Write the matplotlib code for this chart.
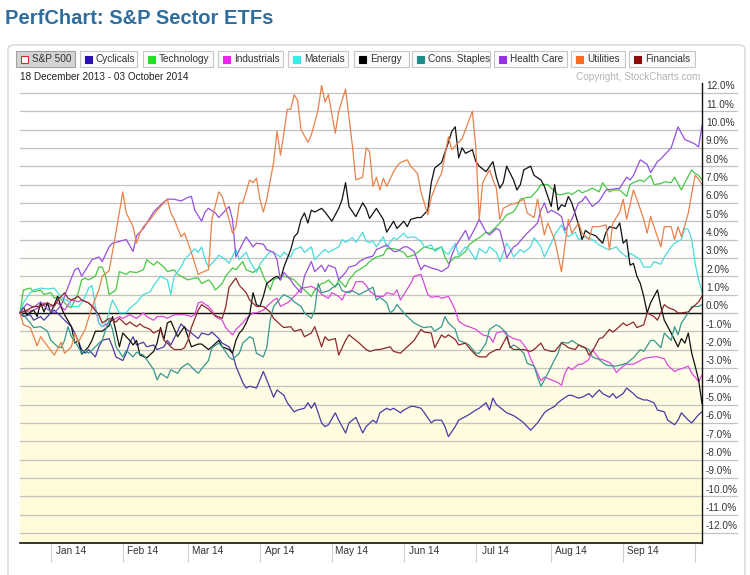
import numpy as np
import pandas as pd
import matplotlib
matplotlib.use('Agg')
import matplotlib.pyplot as plt
from matplotlib.patches import Rectangle, FancyBboxPatch
from matplotlib.colors import LinearSegmentedColormap
import matplotlib.transforms as mtransforms

plt.rcParams['font.family'] = ['Liberation Sans', 'DejaVu Sans']

# ---------------- data ----------------
holidays = ['2013-12-25', '2014-01-01', '2014-01-20', '2014-02-17',
            '2014-04-18', '2014-05-26', '2014-07-04', '2014-09-01']
dates = pd.bdate_range('2013-12-18', '2014-10-03')
dates = dates[~dates.isin(pd.to_datetime(holidays))]   # 200 trading days

month_labels = ['Jan 14', 'Feb 14', 'Mar 14', 'Apr 14', 'May 14', 'Jun 14',
                'Jul 14', 'Aug 14', 'Sep 14', '']
y_ticks = list(range(-12, 13))

# (trading-day index, % change)
cyclicals = [(0,0),(1,-0.2),(3,-0.1),(4,-0.4),(6,-0.2),(7,-0.4),(9,0.0),(10,0.15),(12,-0.2),(13,-0.4),(15,-0.75),(16,-1.1),(18,-2.0),(19,-2.2),(20,-2.0),(22,-2.4),(23,-1.85),(24,-1.5),(26,-1.4),(27,-1.85),(28,-2.4),(30,-2.6),(31,-2.2),(32,-1.65),(33,-1.3),(34,-1.75),(36,-1.6),(37,-1.85),(39,-1.75),(40,-2.0),(42,-1.85),(43,-1.5),(44,-1.75),(46,-1.0),(47,-0.6),(48,-0.8),(50,-1.1),(52,-1.4),(53,-1.1),(55,-1.2),(56,-1.05),(58,-1.4),(59,-1.65),(61,-1.85),(62,-2.2),(63,-2.9),(65,-3.8),(66,-4.1),(67,-4.0),(69,-4.1),(70,-3.65),(71,-3.2),(72,-3.65),(74,-4.6),(75,-4.2),(77,-4.5),(78,-4.9),(80,-5.4),(81,-5.3),(83,-5.2),(84,-4.9),(85,-5.2),(86,-4.9),(88,-6.0),(89,-6.2),(90,-6.1),(92,-5.45),(93,-5.85),(95,-6.55),(96,-6.0),(98,-5.7),(100,-6.55),(101,-6.2),(103,-5.85),(104,-6.0),(105,-5.45),(107,-5.2),(108,-5.3),(109,-5.2),(111,-5.45),(112,-5.3),(114,-5.1),(115,-5.1),(117,-5.2),(118,-5.45),(120,-6.0),(121,-5.85),(123,-5.85),(124,-6.2),(125,-6.75),(127,-6.2),(128,-5.85),(130,-5.65),(131,-5.55),(133,-5.3),(134,-5.2),(136,-4.9),(137,-5.3),(138,-4.65),(139,-5.0),(141,-5.3),(142,-5.45),(144,-5.6),(146,-5.85),(147,-6.0),(149,-6.4),(150,-6.2),(151,-6.0),(153,-5.45),(154,-5.3),(156,-5.1),(157,-4.9),(158,-4.75),(160,-4.5),(161,-4.5),(163,-4.65),(164,-4.6),(166,-4.4),(167,-4.6),(169,-4.2),(170,-4.4),(172,-4.6),(173,-4.4),(174,-4.65),(176,-4.4),(177,-4.1),(179,-4.4),(180,-4.6),(182,-4.75),(183,-4.75),(185,-4.9),(186,-5.3),(188,-5.4),(189,-5.85),(191,-6.1),(192,-5.85),(193,-5.45),(195,-5.85),(196,-6.0),(198,-5.55),(199,-5.4)]

technology = [(0,0),(1,1.25),(3,1.35),(4,1.15),(6,1.25),(7,1.0),(9,1.1),(10,0.8),(11,0.9),(13,0.55),(14,0.35),(15,0.3),(17,1.1),(18,1.8),(19,1.9),(20,1.8),(22,2.0),(23,2.5),(24,2.5),(25,2.0),(26,1.0),(28,1.25),(29,2.25),(31,2.1),(32,2.25),(34,2.2),(36,2.35),(37,2.9),(39,2.6),(40,2.8),(42,2.5),(43,2.25),(45,2.35),(46,2.1),(48,1.9),(49,1.8),(51,1.9),(52,1.9),(53,1.6),(55,1.8),(56,1.6),(57,1.25),(59,1.6),(60,2.0),(62,2.45),(63,2.35),(65,2.8),(66,2.35),(68,2.2),(69,2.35),(70,2.5),(71,2.0),(73,1.25),(74,1.8),(76,2.0),(77,2.0),(79,1.9),(80,1.8),(82,1.4),(83,1.25),(85,0.9),(86,1.25),(88,1.6),(89,1.65),(90,1.8),(92,1.4),(93,1.8),(95,1.4),(96,1.8),(98,2.25),(99,2.35),(101,2.6),(102,2.8),(104,3.05),(106,3.15),(107,3.5),(109,3.5),(110,3.45),(112,3.3),(113,3.05),(115,3.15),(117,3.45),(118,3.6),(120,3.5),(121,3.45),(123,3.6),(124,3.05),(125,2.7),(127,3.05),(128,3.05),(130,3.35),(131,3.7),(133,4.0),(134,4.1),(136,4.4),(137,4.35),(139,4.7),(141,5.1),(142,5.35),(144,5.5),(145,5.8),(146,6.2),(148,6.3),(149,6.3),(151,6.7),(152,7.0),(154,7.0),(155,6.8),(157,6.45),(158,6.45),(160,6.55),(161,6.45),(163,6.7),(164,6.55),(166,6.7),(167,6.8),(169,6.6),(170,7.1),(172,6.6),(173,6.7),(175,6.7),(177,6.35),(178,7.0),(179,7.1),(181,7.25),(182,7.15),(184,7.5),(185,7.0),(187,7.05),(188,7.15),(190,7.1),(191,7.4),(193,6.7),(194,7.1),(196,7.8),(197,7.6),(198,7.5),(199,7.25)]

industrials = [(0,0),(4,0.15),(5,0.25),(7,0.55),(9,0.35),(11,0.55),(13,0.15),(15,0.7),(17,0.6),(18,0.7),(20,0.55),(22,0.25),(23,-0.55),(24,-0.75),(26,-0.55),(27,-0.4),(29,-0.2),(30,-0.3),(32,-0.1),(33,-0.2),(34,-0.3),(36,0.0),(37,-0.2),(39,-0.4),(40,-0.2),(42,-0.2),(43,-0.3),(45,-0.1),(47,-0.1),(48,-0.1),(50,-0.2),(51,-0.1),(52,0.55),(53,0.6),(55,0.35),(56,0.15),(57,-0.2),(59,-0.4),(60,-0.8),(62,-1.2),(63,-0.9),(65,-0.55),(66,-0.3),(68,0.0),(69,0.0),(71,0.15),(72,0.35),(74,0.7),(75,0.8),(76,0.35),(78,0.55),(79,0.7),(81,1.1),(82,1.35),(84,1.4),(85,1.45),(87,1.25),(88,1.0),(90,0.8),(91,1.1),(93,0.9),(94,0.7),(95,1.1),(97,1.25),(98,1.7),(100,1.7),(101,1.5),(102,1.2),(104,0.9),(106,0.9),(107,1.1),(109,1.0),(110,1.25),(111,0.7),(112,1.0),(114,1.6),(115,2.0),(117,2.1),(119,1.0),(120,0.85),(122,0.9),(123,0.8),(125,0.9),(126,0.55),(127,0.15),(128,-0.45),(130,-0.7),(131,-0.75),(133,-0.9),(135,-1.2),(137,-1.3),(138,-1.6),(139,-1.1),(141,-1.0),(142,-1.2),(144,-1.4),(146,-1.5),(148,-2.0),(149,-2.5),(151,-3.3),(152,-3.7),(153,-3.5),(155,-3.65),(157,-3.8),(158,-3.95),(159,-3.3),(160,-2.95),(161,-3.1),(163,-2.8),(164,-2.8),(166,-2.55),(167,-2.0),(169,-2.5),(170,-2.55),(172,-2.7),(173,-2.9),(174,-3.25),(176,-2.9),(177,-2.8),(179,-2.8),(181,-2.6),(182,-2.5),(183,-2.45),(185,-2.4),(186,-2.4),(188,-2.5),(189,-2.85),(191,-3.2),(192,-3.1),(193,-3.05),(195,-2.9),(196,-3.3),(197,-3.5),(198,-3.75),(199,-3.4)]

materials = [(0,0),(1,0.55),(3,1.1),(4,1.25),(6,1.35),(8,1.3),(10,1.35),(11,1.1),(13,0.7),(14,0.7),(15,0.35),(17,0.35),(18,0.55),(19,0.9),(20,1.35),(21,1.5),(22,0.35),(23,-0.55),(24,-0.75),(25,-0.55),(27,0.7),(28,0.35),(29,0.0),(31,0.0),(32,0.25),(34,0.55),(35,0.8),(36,1.0),(38,1.15),(39,1.5),(41,2.0),(43,1.8),(44,1.0),(45,2.0),(47,2.5),(48,2.9),(50,3.3),(51,3.5),(52,3.3),(53,3.6),(54,2.9),(55,2.5),(57,2.9),(58,3.15),(60,2.9),(61,2.7),(63,3.45),(64,2.9),(66,3.3),(67,2.85),(69,2.2),(70,2.65),(71,2.9),(73,3.35),(74,3.3),(76,3.05),(77,3.3),(79,3.05),(80,3.45),(82,3.6),(83,3.3),(85,3.6),(86,2.9),(88,3.3),(89,3.45),(90,3.3),(93,3.6),(94,4.0),(95,3.85),(97,4.1),(98,3.85),(100,4.4),(101,3.9),(102,3.85),(103,3.9),(104,3.6),(106,4.15),(107,3.6),(109,4.1),(110,4.0),(112,4.35),(113,4.1),(115,4.15),(117,3.9),(118,3.6),(120,3.7),(121,3.35),(123,3.6),(124,3.3),(125,3.2),(127,3.8),(128,3.15),(130,3.6),(131,3.45),(133,2.9),(134,3.5),(136,3.25),(137,3.6),(139,3.3),(140,2.8),(142,3.8),(143,3.5),(144,3.05),(146,3.45),(147,3.3),(149,3.6),(150,4.1),(152,3.6),(153,3.05),(155,3.8),(156,4.25),(158,4.8),(159,4.4),(160,4.15),(162,4.4),(163,4.0),(165,4.15),(167,4.0),(169,3.7),(171,3.5),(172,3.45),(174,3.6),(175,3.35),(177,3.05),(178,3.25),(179,3.15),(181,2.9),(182,2.5),(184,2.5),(185,2.8),(187,2.65),(188,3.05),(190,3.6),(191,3.8),(193,4.0),(194,4.6),(195,4.55),(196,4.0),(197,2.7),(198,1.8),(199,1.15)]

energy = [(0,0),(1,0.3),(2,-0.1),(4,0.15),(5,-0.2),(6,0.55),(7,0.05),(8,0.55),(9,0),(11,0.9),(12,0.3),(13,-0.1),(15,-0.75),(16,-1.65),(17,-1.5),(18,-2.25),(20,-1.85),(21,-1.5),(22,-1.0),(24,-1.0),(26,-0.7),(27,-0.2),(28,-1.0),(29,-1.85),(30,-1.1),(32,-1.5),(33,-1.75),(34,-1.5),(35,-2.3),(37,-2.45),(39,-2.1),(40,-1.65),(41,-0.8),(42,-1.45),(43,-0.55),(44,-0.45),(46,-1.3),(47,-1.0),(48,-0.75),(50,-1.85),(52,-1.7),(53,-1.7),(55,-2.0),(56,-1.85),(58,-1.5),(59,-1.85),(61,-2.0),(62,-2.2),(63,-1.5),(64,-1.1),(65,-0.9),(66,-0.55),(67,-0.1),(68,1.1),(69,0.45),(70,0.35),(71,0.9),(72,1.6),(74,1.9),(75,2.0),(76,1.8),(77,2.5),(79,3.45),(80,4.15),(81,4.35),(82,5.1),(83,5.45),(84,4.9),(85,5.6),(86,5.5),(88,5.7),(89,5.5),(91,5.0),(93,5.7),(94,6.2),(95,7.1),(96,5.8),(98,5.25),(100,6.0),(101,5.7),(102,5.15),(104,5.7),(106,5.1),(107,4.4),(109,5.0),(110,4.6),(112,5.0),(113,4.7),(114,5.1),(116,5.2),(117,5.2),(119,5.6),(120,7.1),(121,7.9),(123,8.2),(125,9.3),(126,9.9),(127,10.15),(128,8.45),(129,9.0),(130,8.7),(132,8.9),(133,8.25),(134,8.0),(136,7.7),(138,8.25),(139,7.4),(140,6.8),(141,7.1),(142,8.0),(144,7.25),(145,6.7),(146,7.0),(147,7.8),(149,8.0),(150,7.5),(152,7.25),(153,6.9),(155,5.8),(156,7.0),(157,5.6),(158,5.9),(159,5.8),(160,6.35),(161,6.0),(163,4.8),(164,4.0),(165,4.5),(166,4.35),(168,4.2),(170,3.8),(171,4.4),(172,4.7),(174,4.6),(175,4.9),(176,3.8),(177,4.0),(178,2.6),(179,2.7),(180,2.0),(181,1.6),(182,0.9),(183,0.0),(184,0.55),(186,1.25),(187,0.35),(188,-0.4),(189,-0.75),(190,-1.1),(192,-1.85),(193,-1.4),(194,-1.65),(195,-1.1),(196,-2.2),(197,-2.9),(198,-3.65),(199,-4.95)]

cons_staples = [(0,0),(1,-0.1),(3,-0.55),(4,-0.8),(6,-0.75),(8,-1.0),(9,-1.5),(11,-1.85),(12,-1.9),(13,-1.5),(14,-0.75),(15,-1.3),(17,-1.85),(18,-2.2),(19,-2.05),(20,-2.2),(22,-1.85),(23,-1.65),(24,-1.5),(25,-0.9),(26,-0.4),(27,-0.9),(28,-1.85),(30,-2.4),(31,-2.05),(33,-2.4),(34,-2.15),(36,-2.3),(37,-2.55),(39,-3.1),(40,-3.65),(41,-3.3),(43,-3.55),(44,-3.1),(46,-3.3),(47,-3.0),(49,-2.75),(50,-2.95),(52,-3.3),(53,-3.05),(55,-2.6),(56,-1.9),(58,-1.65),(59,-1.85),(61,-2.4),(62,-2.55),(64,-2.2),(65,-1.65),(67,-1.3),(68,-1.4),(69,-2.2),(71,-2.4),(72,-1.9),(73,-0.4),(74,0.35),(76,0.8),(77,1.0),(79,0.8),(80,0.6),(82,0.35),(83,0.0),(85,-0.3),(86,0.15),(87,1.6),(88,1.1),(90,1.2),(91,1.35),(93,1.6),(94,1.2),(96,1.1),(97,1.2),(99,1.0),(100,1.1),(102,1.3),(103,1.4),(104,0.7),(105,0.85),(107,0.55),(108,0.0),(109,0.15),(110,0.45),(112,0.0),(113,-0.2),(115,-0.55),(117,-0.75),(118,-0.8),(120,-0.75),(121,-1.0),(123,-0.75),(124,-0.2),(125,-0.55),(127,-0.9),(128,-1.5),(130,-1.65),(131,-1.75),(133,-2.2),(134,-2.2),(136,-1.65),(137,-0.9),(139,-0.65),(140,-0.75),(142,-1.1),(143,-1.9),(144,-1.75),(145,-1.85),(147,-2.2),(148,-2.75),(150,-2.9),(151,-3.5),(152,-4.0),(154,-3.3),(156,-2.55),(157,-2.2),(158,-1.6),(160,-1.65),(161,-1.5),(163,-1.75),(164,-1.85),(166,-2.0),(167,-2.4),(169,-2.55),(171,-2.85),(173,-2.9),(174,-2.9),(177,-2.75),(178,-2.6),(179,-2.45),(181,-2.0),(182,-2.1),(184,-1.5),(185,-1.5),(187,-1.9),(188,-1.1),(190,-1.5),(191,-0.75),(192,-1.2),(193,-0.55),(195,0.0),(196,0.35),(198,0.35),(199,0.45)]

health_care = [(0,0),(2,0.5),(4,0.3),(6,0.6),(8,0.2),(10,0.0),(12,0.4),(13,0.9),(15,1.9),(16,2.35),(17,2.45),(18,2.0),(20,2.6),(21,2.9),(23,3.05),(24,2.8),(26,3.6),(27,3.8),(29,3.9),(31,4.0),(33,3.35),(34,4.2),(36,4.6),(37,4.9),(39,5.5),(40,5.7),(42,6.05),(43,6.2),(45,6.2),(47,6.1),(49,6.3),(50,6.35),(51,5.6),(53,5.0),(54,5.5),(55,5.7),(57,5.45),(58,5.2),(60,5.6),(61,5.8),(62,5.1),(63,3.05),(65,3.8),(66,4.15),(68,3.6),(69,3.8),(71,3.75),(72,3.45),(74,3.3),(75,2.9),(76,1.8),(77,2.2),(79,1.8),(80,1.5),(82,1.1),(83,2.0),(85,2.8),(86,2.25),(88,2.6),(89,2.25),(90,2.6),(92,2.45),(93,1.8),(95,2.2),(96,2.5),(98,2.6),(99,2.8),(101,3.0),(103,3.1),(104,3.45),(107,3.7),(109,3.35),(110,3.35),(112,3.6),(113,3.6),(115,3.35),(117,2.35),(118,2.6),(120,2.45),(122,2.35),(123,2.25),(125,2.5),(126,3.15),(127,3.6),(128,3.9),(130,4.5),(131,4.0),(133,4.7),(134,5.1),(136,4.4),(137,4.25),(139,4.6),(140,4.5),(141,3.8),(142,3.0),(144,3.6),(145,3.7),(147,4.15),(148,4.35),(150,4.7),(151,4.9),(152,5.6),(153,6.0),(154,5.45),(155,5.6),(157,5.4),(158,5.25),(159,4.5),(161,5.1),(163,6.0),(164,6.1),(165,6.35),(167,5.8),(169,6.1),(171,6.7),(173,6.75),(175,6.8),(177,7.4),(178,7.25),(179,7.5),(181,8.35),(183,8.1),(184,7.65),(186,8.25),(187,8.4),(189,8.8),(190,9.0),(192,10.15),(193,9.8),(194,9.45),(196,9.3),(197,9.2),(198,9.05),(199,10.2)]

utilities = [(0,0),(1,-0.65),(3,-0.8),(5,-1.8),(6,-1.3),(8,-1.8),(10,-2.3),(12,-1.6),(13,-2.2),(15,-1.85),(16,-1.1),(17,-1.6),(19,-0.9),(21,0.3),(23,1.25),(24,2.0),(26,2.3),(28,4.4),(30,6.6),(31,5.45),(33,4.7),(34,3.8),(35,4.35),(36,4.7),(38,5.1),(40,5.6),(42,6.0),(43,6.2),(44,5.45),(45,5.1),(47,4.15),(48,4.35),(50,3.3),(52,2.1),(53,2.2),(55,2.35),(56,5.1),(58,6.6),(59,6.35),(61,5.1),(62,4.35),(63,4.7),(64,6.0),(65,6.0),(67,7.25),(68,7.1),(69,7.35),(70,6.2),(71,5.5),(72,6.2),(74,8.2),(75,9.9),(76,8.6),(77,9.8),(78,11.1),(79,11.1),(80,11.9),(81,11.6),(82,10.0),(84,9.3),(85,9.7),(87,11.1),(88,12.4),(89,11.5),(90,11.9),(92,9.8),(93,11.0),(95,12.2),(97,9.1),(98,7.25),(100,7.4),(101,9.0),(102,8.8),(103,6.9),(104,7.4),(105,6.7),(106,7.35),(107,6.9),(109,7.7),(110,8.0),(111,8.2),(113,8.35),(114,8.0),(116,7.6),(117,6.6),(119,5.35),(120,6.3),(122,7.25),(123,7.6),(125,9.6),(126,8.9),(128,9.3),(129,9.5),(130,10.0),(132,11.0),(133,9.05),(134,5.1),(135,7.1),(137,7.8),(138,7.25),(139,6.8),(140,5.1),(141,5.7),(143,5.9),(145,6.0),(147,6.2),(148,5.45),(150,5.2),(151,6.2),(153,4.25),(154,4.9),(156,4.0),(158,2.25),(160,5.1),(161,4.35),(163,4.9),(164,4.35),(166,4.0),(167,4.7),(169,4.7),(171,4.8),(172,3.45),(173,4.9),(175,5.5),(176,6.2),(177,5.1),(179,6.7),(180,6.2),(182,5.1),(183,4.35),(184,5.25),(185,4.7),(187,3.6),(188,4.7),(190,4.7),(191,4.0),(192,4.7),(193,4.15),(195,5.45),(196,6.5),(197,7.5),(198,7.3),(199,7.0)]

financials = [(0,0),(2,0.15),(4,0.35),(6,0.35),(8,0.55),(10,0.35),(11,0.7),(13,1.1),(14,0.8),(15,0.7),(17,0.9),(18,0.7),(20,0.55),(21,0.35),(23,-0.1),(24,-0.55),(26,-0.3),(28,-0.5),(29,-0.3),(31,-0.65),(32,-0.5),(34,-0.75),(35,-0.6),(36,-0.75),(38,-0.9),(39,-1.1),(41,-0.9),(42,-1.5),(43,-1.65),(44,-1.85),(45,-2.0),(47,-2.0),(48,-1.9),(49,-1.5),(50,-0.8),(52,0.15),(53,0.45),(55,0.2),(56,0.0),(57,-0.15),(59,-0.3),(60,0.3),(61,1.4),(63,1.9),(64,1.5),(66,1.1),(67,0.7),(69,0.35),(70,0.35),(71,0.35),(73,0.05),(74,-0.3),(76,-0.65),(77,-0.8),(79,-0.75),(80,-1.0),(82,-0.9),(83,-1.3),(85,-1.1),(86,-0.75),(88,-1.85),(89,-1.3),(90,-1.5),(92,-1.4),(93,-2.3),(95,-1.5),(96,-1.2),(98,-1.5),(99,-1.65),(101,-2.0),(102,-2.1),(104,-2.0),(105,-2.0),(107,-1.9),(108,-1.85),(109,-2.1),(111,-2.2),(113,-1.85),(115,-1.5),(117,-0.9),(118,-1.05),(120,-1.1),(121,-1.9),(123,-1.2),(124,-1.35),(125,-1.2),(127,-1.45),(128,-1.75),(130,-1.65),(131,-1.9),(133,-2.3),(134,-2.4),(136,-2.4),(137,-2.2),(139,-2.0),(140,-2.0),(142,-1.3),(143,-1.85),(144,-2.0),(146,-2.0),(147,-2.0),(149,-2.1),(150,-2.0),(152,-1.65),(153,-2.0),(155,-2.1),(156,-2.1),(158,-1.65),(159,-1.75),(160,-1.9),(162,-2.0),(163,-1.75),(165,-1.9),(166,-2.3),(167,-2.1),(169,-1.4),(170,-1.35),(172,-0.9),(173,-1.05),(174,-0.9),(176,-0.55),(177,-0.7),(179,-0.5),(180,-0.8),(182,-0.65),(183,0.0),(185,-0.2),(186,-0.4),(188,0.45),(189,0.3),(191,0.15),(192,0.0),(193,0.0),(195,0.05),(196,0.25),(198,0.6),(199,0.9)]

series_names = ['Cyclicals', 'Technology', 'Industrials', 'Materials', 'Energy',
                'Cons. Staples', 'Health Care', 'Utilities', 'Financials']
series_data = [cyclicals, technology, industrials, materials, energy,
               cons_staples, health_care, utilities, financials]
line_colors = ['#4a3aa6', '#46c846', '#dc48dc', '#48dcdc', '#111111',
               '#34988e', '#9650dc', '#e8824a', '#8c2a2a']
swatch_colors = ['#2a12b0', '#22e022', '#ee22ee', '#38eaea', '#000000',
                 '#1c8c8c', '#9630e8', '#f86a22', '#8c0c0c']

# ---------------- figure ----------------
W, H = 750, 575
fig = plt.figure(figsize=(W / 100, H / 100), dpi=100)
fig.patch.set_facecolor('white')

def fx(p):
    return p / W

def fy(p):
    return 1 - p / H

# outer panel (border only)
fig.add_artist(FancyBboxPatch((fx(8), fy(600)), (745 - 8) / W, (600 - 45) / H,
                              boxstyle='round,pad=0,rounding_size=0.008',
                              transform=fig.transFigure, facecolor='none',
                              edgecolor='#d6d6d6', lw=1.0, zorder=-1))

fig.text(fx(5), fy(18), 'PerfChart: S&P Sector ETFs', fontsize=14.5,
         fontweight='bold', color='#2f6d9c', ha='left', va='center')

# legend buttons
btn_x = [(16, 75), (80, 137), (143, 213), (218, 283), (288, 348),
         (354, 409), (412, 490), (494, 567), (571, 625), (629, 695)]
btn_names = ['S&P 500'] + series_names
btn_colors = [None] + swatch_colors
for name, col, (x0, x1) in zip(btn_names, btn_colors, btn_x):
    pressed = col is None
    fig.add_artist(Rectangle((fx(x0), fy(67)), (x1 - x0) / W, 16 / H,
                             transform=fig.transFigure,
                             facecolor='#d4d4d4' if pressed else '#fbfbfb',
                             edgecolor='#a0a0a0' if pressed else '#c6c6c6', lw=0.8))
    fig.add_artist(Rectangle((fx(x0 + 5), fy(62.5)), 7 / W, 7 / H,
                             transform=fig.transFigure,
                             facecolor='white' if pressed else col,
                             edgecolor='#cc3333' if pressed else col, lw=0.8))
    fig.text(fx(x0 + 16), fy(59.5), name, fontsize=7.2, color='#333333',
             ha='left', va='center')

fig.text(fx(20), fy(77), '18 December 2013 - 03 October 2014', fontsize=7.2,
         color='#222222', ha='left', va='center')
fig.text(fx(700), fy(77), 'Copyright, StockCharts.com', fontsize=7.2,
         color='#b4b4b4', ha='right', va='center')

# plot axes
ax = fig.add_axes([fx(20), fy(543), 682 / W, 474 / H])
ymin, ymax = -12.55, 13.3
ax.set_xlim(0, len(dates) - 1)
ax.set_ylim(ymin, ymax)
for s in ax.spines.values():
    s.set_visible(False)
ax.patch.set_alpha(0)

# background gradient (white top -> pale yellow bottom)
cmap = LinearSegmentedColormap.from_list('bg', ['#fffcd6', '#fffde4', '#ffffff', '#ffffff'],
                                         N=256)
grad = np.linspace(0, 1, 256).reshape(-1, 1)
ax.imshow(grad, extent=[0, len(dates) - 1, ymin, 12.55], origin='lower',
          aspect='auto', cmap=cmap, zorder=0)

blend = mtransforms.blended_transform_factory(ax.transAxes, ax.transData)
for v in y_ticks:
    ax.plot([0, 1.052], [v, v], transform=blend, color='#c2c2c2', lw=0.9,
            clip_on=False, zorder=1)
ax.plot([0, 1], [0, 0], transform=blend, color='#111111', lw=1.0, zorder=2)

# y labels
lab_tr = mtransforms.offset_copy(blend, fig=fig, x=4, y=6.5, units='dots')
for v in y_ticks:
    ax.text(1.0, v, f'{v:.1f}%', transform=lab_tr, fontsize=7.2, color='#333333',
            ha='left', va='center', clip_on=False)

# right and bottom axis lines
top_frac = (12.55 - ymin) / (ymax - ymin)
ax.plot([1, 1], [0, top_frac], transform=ax.transAxes, color='#111111', lw=1.0,
        clip_on=False, zorder=5)
ax.plot([0, 1], [0, 0], transform=ax.transAxes, color='#111111', lw=1.2,
        clip_on=False, zorder=5)

# month separators and labels
month_starts = [i for i in range(1, len(dates)) if dates[i].month != dates[i - 1].month]
ax.set_xticks(month_starts)
ax.set_xticklabels([])
ax.tick_params(axis='x', direction='out', length=14, width=0.8, color='#d0d0d0')
ax.set_yticks([])
xlab_tr = mtransforms.offset_copy(ax.get_xaxis_transform(), fig=fig, x=0, y=-8,
                                  units='dots')
for idx, lab in zip(month_starts, month_labels):
    if lab:
        ax.text(idx + 5.8, 0, lab, transform=xlab_tr, fontsize=7.2,
                color='#333333', ha='center', va='center', clip_on=False)

# series
for name, data, col in zip(series_names, series_data, line_colors):
    xs = [p[0] for p in data]
    ys = [p[1] for p in data]
    ax.plot(xs, ys, color=col, lw=0.9, zorder=3, solid_joinstyle='round',
            clip_on=False)

fig.savefig('out.png', dpi=100)
